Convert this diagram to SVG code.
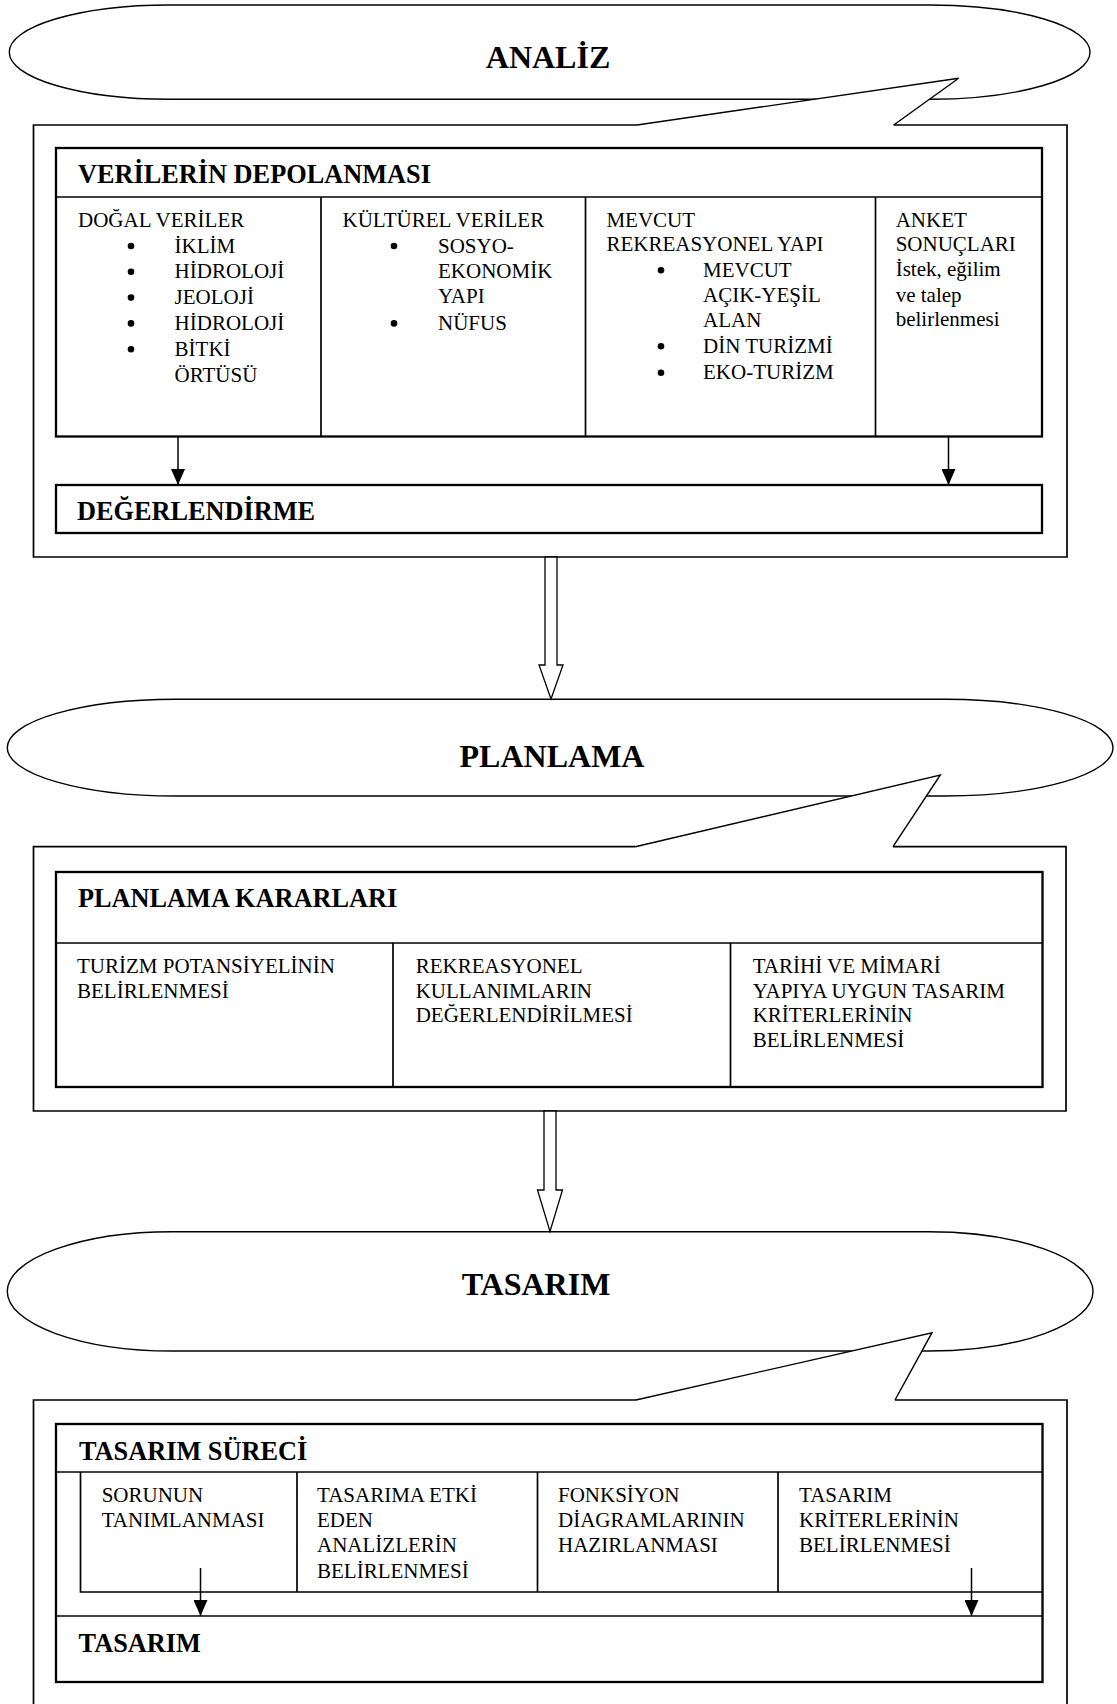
<svg xmlns="http://www.w3.org/2000/svg" width="1117" height="1704" viewBox="0 0 1117 1704">
<defs>
<marker id="ah" markerUnits="userSpaceOnUse" markerWidth="16" markerHeight="14" refX="16" refY="7" orient="auto"><path d="M0,0 L16,7 L0,14 z" fill="#000"/></marker>
<style>
text{font-family:"Liberation Serif","Times New Roman",serif;fill:#000}
.t{font-size:32px;font-weight:bold}
.h{font-size:26.3px;font-weight:bold}
.b{font-size:21px}
.st{fill:#fff;stroke:#000;stroke-width:1.4}
.tail{fill:#fff;stroke:#000;stroke-width:1.4}
.ob{fill:none;stroke:#000;stroke-width:1.7}
.ib{fill:none;stroke:#000;stroke-width:2.3}
.dv{stroke:#000;stroke-width:1.7;fill:none}
.ar{stroke:#000;stroke-width:1.5;marker-end:url(#ah)}
.ha{fill:#fff;stroke:#000;stroke-width:1.3}
.bu{fill:#000}
</style>
</defs>
<rect width="1117" height="1704" fill="#fff"/>

<g id="analiz">
<rect class="st" x="9.3" y="5" width="1080.7" height="94.3" rx="160" ry="47"/>
<polyline class="tail" points="637,125 958.7,78.3 893.7,125"/>
<path class="ob" d="M637,125 H33.5 V557 H1067 V125 H893.7"/>
<text class="t" x="548" y="68" text-anchor="middle">ANALİZ</text>
</g>

<g id="verilerin-depolanmasi">
<rect class="ib" x="56" y="148" width="986" height="288.5"/>
<line class="dv" x1="56" y1="197" x2="1042" y2="197"/>
<line class="dv" x1="321" y1="197" x2="321" y2="436.5"/>
<line class="dv" x1="585.5" y1="197" x2="585.5" y2="436.5"/>
<line class="dv" x1="875.5" y1="197" x2="875.5" y2="436.5"/>
<text class="h" x="78" y="183">VERİLERİN DEPOLANMASI</text>
<g class="b">
<text x="78" y="226.7">DOĞAL VERİLER</text>
<text x="174.6" y="252.5">İKLİM</text>
<text x="174.6" y="278.3">HİDROLOJİ</text>
<text x="174.6" y="304.1">JEOLOJİ</text>
<text x="174.6" y="329.9">HİDROLOJİ</text>
<text x="174.6" y="355.7">BİTKİ</text>
<text x="174.6" y="381.5">ÖRTÜSÜ</text>
<text x="342.5" y="226.7">KÜLTÜREL VERİLER</text>
<text x="438" y="252.5">SOSYO-</text>
<text x="438" y="278.3">EKONOMİK</text>
<text x="438" y="303">YAPI</text>
<text x="438" y="329.9">NÜFUS</text>
<text x="606.4" y="226.7">MEVCUT</text>
<text x="606.4" y="251">REKREASYONEL YAPI</text>
<text x="703" y="276.7">MEVCUT</text>
<text x="703" y="301.7">AÇIK-YEŞİL</text>
<text x="703" y="326.7">ALAN</text>
<text x="703" y="352.7">DİN TURİZMİ</text>
<text x="703" y="379.3">EKO-TURİZM</text>
<text x="895.7" y="226.7">ANKET</text>
<text x="895.7" y="250.7">SONUÇLARI</text>
<text x="895.7" y="276">İstek, eğilim</text>
<text x="895.7" y="301.7">ve talep</text>
<text x="895.7" y="326">belirlenmesi</text>
</g>
<circle class="bu" cx="131" cy="246" r="3.3"/>
<circle class="bu" cx="131" cy="271.8" r="3.3"/>
<circle class="bu" cx="131" cy="297.6" r="3.3"/>
<circle class="bu" cx="131" cy="323.4" r="3.3"/>
<circle class="bu" cx="131" cy="349.2" r="3.3"/>
<circle class="bu" cx="394" cy="246" r="3.3"/>
<circle class="bu" cx="394" cy="323.4" r="3.3"/>
<circle class="bu" cx="661" cy="270.2" r="3.3"/>
<circle class="bu" cx="661" cy="346.2" r="3.3"/>
<circle class="bu" cx="661" cy="372.8" r="3.3"/>
</g>

<g id="degerlendirme">
<rect class="ib" x="56" y="485" width="986" height="48"/>
<text class="h" x="77" y="520">DEĞERLENDİRME</text>
</g>

<g id="planlama">
<rect class="st" x="7.3" y="699.3" width="1105.7" height="96.7" rx="168" ry="48.3"/>
<polyline class="tail" points="635.3,846.7 940.3,775 893,846.7"/>
<path class="ob" d="M635.3,846.7 H33.5 V1111 H1066 V846.7 H893"/>
<text class="t" x="552" y="767" text-anchor="middle">PLANLAMA</text>
</g>

<g id="planlama-kararlari">
<rect class="ib" x="56" y="872" width="986.5" height="215"/>
<line class="dv" x1="56" y1="943" x2="1042.5" y2="943"/>
<line class="dv" x1="393" y1="943" x2="393" y2="1087"/>
<line class="dv" x1="730.5" y1="943" x2="730.5" y2="1087"/>
<text class="h" x="78" y="907">PLANLAMA KARARLARI</text>
<g class="b">
<text x="77" y="973.3">TURİZM POTANSİYELİNİN</text>
<text x="77" y="997.7">BELİRLENMESİ</text>
<text x="415.7" y="973.3">REKREASYONEL</text>
<text x="415.7" y="997.7">KULLANIMLARIN</text>
<text x="415.7" y="1021.7">DEĞERLENDİRİLMESİ</text>
<text x="752.7" y="973.3">TARİHİ VE MİMARİ</text>
<text x="752.7" y="997.7">YAPIYA UYGUN TASARIM</text>
<text x="752.7" y="1021.7">KRİTERLERİNİN</text>
<text x="752.7" y="1046.7">BELİRLENMESİ</text>
</g>
</g>

<g id="tasarim">
<rect class="st" x="7.3" y="1231.7" width="1085.7" height="119.3" rx="165" ry="59.6"/>
<polyline class="tail" points="636,1400 932,1332.7 895,1400"/>
<path class="ob" d="M636,1400 H33.5 V1710 M1067,1710 V1400 H895"/>
<text class="t" x="536" y="1295" text-anchor="middle">TASARIM</text>
</g>

<g id="tasarim-sureci">
<rect class="ib" x="56" y="1424" width="986.5" height="258"/>
<line class="dv" x1="56" y1="1472" x2="1042.5" y2="1472"/>
<path class="dv" d="M80.5,1472 V1592 H1042.5"/>
<line class="dv" x1="297" y1="1472" x2="297" y2="1592"/>
<line class="dv" x1="537.5" y1="1472" x2="537.5" y2="1592"/>
<line class="dv" x1="778" y1="1472" x2="778" y2="1592"/>
<line class="dv" x1="56" y1="1616" x2="1042.5" y2="1616"/>
<text class="h" x="79" y="1460">TASARIM SÜRECİ</text>
<g class="b">
<text x="101.7" y="1501.7">SORUNUN</text>
<text x="101.7" y="1527">TANIMLANMASI</text>
<text x="317" y="1501.7">TASARIMA ETKİ</text>
<text x="317" y="1527">EDEN</text>
<text x="317" y="1552.3">ANALİZLERİN</text>
<text x="317" y="1577.5">BELİRLENMESİ</text>
<text x="558" y="1501.7">FONKSİYON</text>
<text x="558" y="1527">DİAGRAMLARININ</text>
<text x="558" y="1552.3">HAZIRLANMASI</text>
<text x="799" y="1501.7">TASARIM</text>
<text x="799" y="1527">KRİTERLERİNİN</text>
<text x="799" y="1552.3">BELİRLENMESİ</text>
</g>
<text class="h" x="78.6" y="1651.7">TASARIM</text>
</g>

<g id="connectors">
<line class="ar" x1="178" y1="436.5" x2="178" y2="485"/>
<line class="ar" x1="948.5" y1="436.5" x2="948.5" y2="485"/>
<polygon class="ha" points="545,557 545,665 539,665 551,699 563,665 557,665 557,557"/>
<polygon class="ha" points="544,1111 544,1190 537.5,1190 550,1231.5 562.5,1190 556,1190 556,1111"/>
<line class="ar" x1="200.5" y1="1568" x2="200.5" y2="1616"/>
<line class="ar" x1="971.5" y1="1568" x2="971.5" y2="1616"/>
</g>
</svg>
